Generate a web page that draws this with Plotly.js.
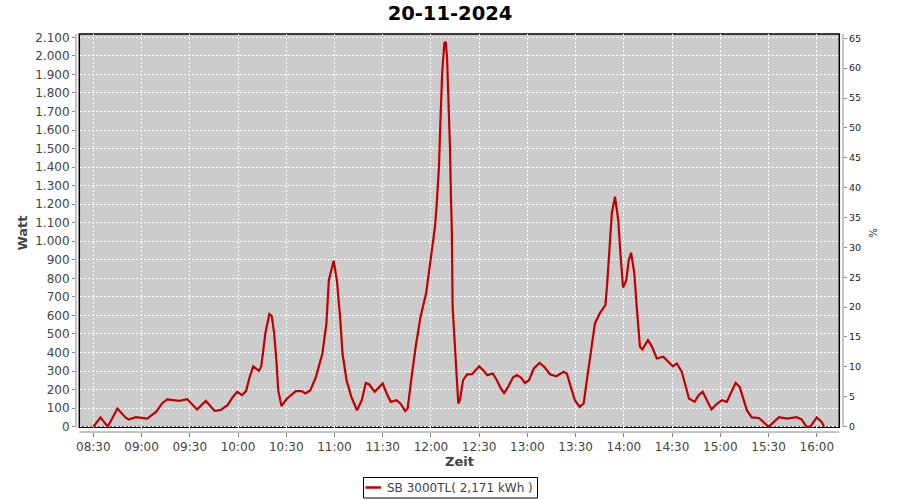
<!DOCTYPE html>
<html>
<head>
<meta charset="utf-8">
<script src="https://cdn.plot.ly/plotly-3.0.1.min.js"></script>
<style>html,body{margin:0;padding:0;background:#fff;}#chart{width:900px;height:500px;}</style>
</head>
<body>
<div id="chart"></div>
<script>
const day = '2024-11-20';
const times = [
'08:30:00','08:34:30','08:39:00','08:45:00','08:50:00','08:52:00','08:56:30','09:03:30','09:09:00','09:13:00',
'09:16:00','09:23:30','09:28:30','09:34:30','09:40:00','09:45:30','09:49:00','09:53:30','09:56:30','09:59:30',
'10:02:30','10:05:00','10:07:00','10:09:30','10:13:00','10:14:30','10:17:00','10:19:30','10:21:00','10:22:30',
'10:24:00','10:25:00','10:27:00','10:30:30','10:36:00','10:39:30','10:42:00','10:45:00','10:48:30','10:52:30',
'10:55:00','10:56:30','10:59:30','11:01:30','11:03:30','11:05:00','11:07:30','11:10:30','11:14:00','11:17:00',
'11:19:30','11:21:30','11:25:00','11:30:00','11:32:30','11:35:00','11:38:30','11:41:00','11:44:00','11:45:30',
'11:48:00','11:50:30','11:53:30','11:57:00','11:59:30','12:01:30','12:02:30','12:03:30','12:05:00','12:06:00',
'12:07:00','12:08:20','12:09:10','12:10:00','12:11:00','12:11:50','12:12:30','12:13:00','12:13:30','12:14:30',
'12:15:30','12:16:20','12:17:00','12:18:00','12:20:00','12:22:30','12:25:30','12:30:00','12:32:30','12:35:00',
'12:38:30','12:41:00','12:43:30','12:45:30','12:48:00','12:51:00','12:53:30','12:56:00','12:58:30','13:01:00',
'13:04:00','13:07:30','13:10:30','13:14:00','13:18:00','13:22:30','13:24:30','13:27:00','13:29:30','13:32:30',
'13:35:00','13:37:00','13:39:00','13:40:00','13:42:00','13:45:00','13:48:30','13:49:30','13:51:30','13:52:30',
'13:54:30','13:56:30','13:58:00','13:59:30','14:01:30','14:03:00','14:04:30','14:06:30','14:08:00','14:09:00',
'14:10:00','14:11:30','14:15:00','14:17:30','14:20:30','14:24:30','14:27:30','14:30:30','14:33:00','14:36:00',
'14:38:00','14:40:30','14:44:00','14:46:30','14:49:00','14:51:30','14:54:30','14:57:30','15:01:00','15:04:00',
'15:07:00','15:09:30','15:12:00','15:14:30','15:16:30','15:19:30','15:24:00','15:30:00','15:33:30','15:36:30',
'15:41:30','15:47:30','15:50:30','15:53:30','15:56:00','16:00:00','16:03:00','16:04:30'
];
const watt = [
0,50,0,98,50,39,51,44,80,128,
147,139,148,93,139,85,89,116,157,188,
170,192,260,326,301,326,503,607,596,503,
341,197,111,152,192,192,179,197,269,395,
557,790,895,790,592,395,251,161,89,143,
236,229,188,233,179,134,143,125,85,98,
269,431,592,719,881,1006,1078,1186,1402,1672,
1906,2068,2076,1995,1762,1510,1222,1060,646,485,
323,188,125,143,251,282,283,326,305,278,
287,251,206,182,215,265,278,265,236,251,
314,344,323,283,272,296,287,215,143,107,
125,251,377,431,557,611,656,754,1006,1150,
1240,1114,916,751,790,898,938,827,646,539,
431,417,467,431,368,377,350,326,341,296,
233,152,134,170,188,143,93,121,143,134,
188,236,215,143,89,50,47,0,26,51,
44,51,39,0,0,50,26,0
];
const seriesName = 'SB 3000TL( 2,171 kWh )';
const chartTitle = '20-11-2024';
const lineColor = '#c00000';

const x = times.map(t => day + ' ' + t);

const traces = [
  {x: x, y: watt, type: 'scatter', mode: 'lines', name: seriesName, showlegend: false,
   line: {color: lineColor, width: 2.2}, hoverinfo: 'x+y'},
  {x: [], y: [], type: 'scatter', mode: 'lines', yaxis: 'y2', showlegend: false, hoverinfo: 'skip'}
];

// pixel -> paper helpers for the frame/legend decoration
const L = 76, T = 34, PW = 767, PH = 398;
const px = v => (v - L) / PW;
const py = v => (T + PH - v) / PH;

const gray = '#888888';
const layout = {
  width: 900, height: 500,
  margin: {l: 76, r: 57, t: 34, b: 68},
  paper_bgcolor: '#ffffff',
  plot_bgcolor: 'rgba(0,0,0,0)',
  separators: ',.',
  font: {family: 'DejaVu Sans', color: '#444444', size: 12},
  title: {text: chartTitle, font: {family: 'DejaVu Sans', size: 19.5, color: '#000000', weight: 'bold'},
          x: 0.5, xref: 'container', xanchor: 'center', y: 1 - 13/500, yref: 'container', yanchor: 'middle'},
  showlegend: false,
  xaxis: {
    type: 'date',
    range: [day + ' 08:19:14', day + ' 16:16:18'],
    tick0: day + ' 08:30:00', dtick: 1800000, tickformat: '%H:%M',
    showgrid: true, gridcolor: '#ffffff', gridwidth: 1, griddash: '2px,2px',
    showline: false, zeroline: false,
    ticks: 'outside', ticklen: 4, tickcolor: gray,
    tickfont: {size: 12, color: '#444444'},
    title: {text: 'Zeit', font: {size: 13, color: '#444444', weight: 'bold'}, standoff: 3}
  },
  yaxis: {
    range: [-28.58, 2117.8],
    tick0: 0, dtick: 100, tickformat: ',d',
    showgrid: true, gridcolor: '#ffffff', gridwidth: 1, griddash: '2px,2px',
    showline: false, zeroline: false,
    ticks: 'outside', ticklen: 3, tickcolor: gray,
    tickfont: {size: 12, color: '#444444'},
    title: {text: 'Watt', font: {size: 13, color: '#444444', weight: 'bold'}, standoff: 4}
  },
  yaxis2: {
    overlaying: 'y', side: 'right',
    range: [-0.921, 65.72], tick0: 0, dtick: 5,
    showgrid: false, showline: false, zeroline: false,
    ticks: 'outside', ticklen: 3, tickcolor: gray,
    tickfont: {size: 9.5, color: '#222222'},
    title: {text: '%', font: {size: 10, color: '#222222'}, standoff: 10}
  },
  shapes: [
    {type: 'rect', xref: 'paper', yref: 'paper', x0: px(79.3), x1: px(839.3), y0: py(427.3), y1: 1,
     fillcolor: '#cccccc', line: {color: '#000000', width: 1.5}, layer: 'below'},
    {type: 'line', xref: 'paper', yref: 'paper', x0: 0, x1: 0, y0: py(427.3), y1: 1, line: {color: gray, width: 1}},
    {type: 'line', xref: 'paper', yref: 'paper', x0: 1, x1: 1, y0: py(427.3), y1: 1, line: {color: gray, width: 1}},
    {type: 'line', xref: 'paper', yref: 'paper', x0: px(79.3), x1: px(839.3), y0: 0, y1: 0, line: {color: gray, width: 1}},
    // legend box
    {type: 'rect', xref: 'paper', yref: 'paper', x0: px(363.5), x1: px(537.5), y0: py(477.5), y1: py(498),
     fillcolor: '#ffffff', line: {color: '#000000', width: 1}},
    {type: 'line', xref: 'paper', yref: 'paper', x0: px(365.5), x1: px(381), y0: py(487.5), y1: py(487.5),
     line: {color: lineColor, width: 2.5}}
  ],
  annotations: [
    {xref: 'paper', yref: 'paper', x: px(385), y: py(487.5), xanchor: 'left', yanchor: 'middle',
     text: seriesName, showarrow: false, font: {size: 12, color: '#444444'}}
  ]
};

Plotly.newPlot('chart', traces, layout, {displayModeBar: false, staticPlot: true});
</script>
</body>
</html>
